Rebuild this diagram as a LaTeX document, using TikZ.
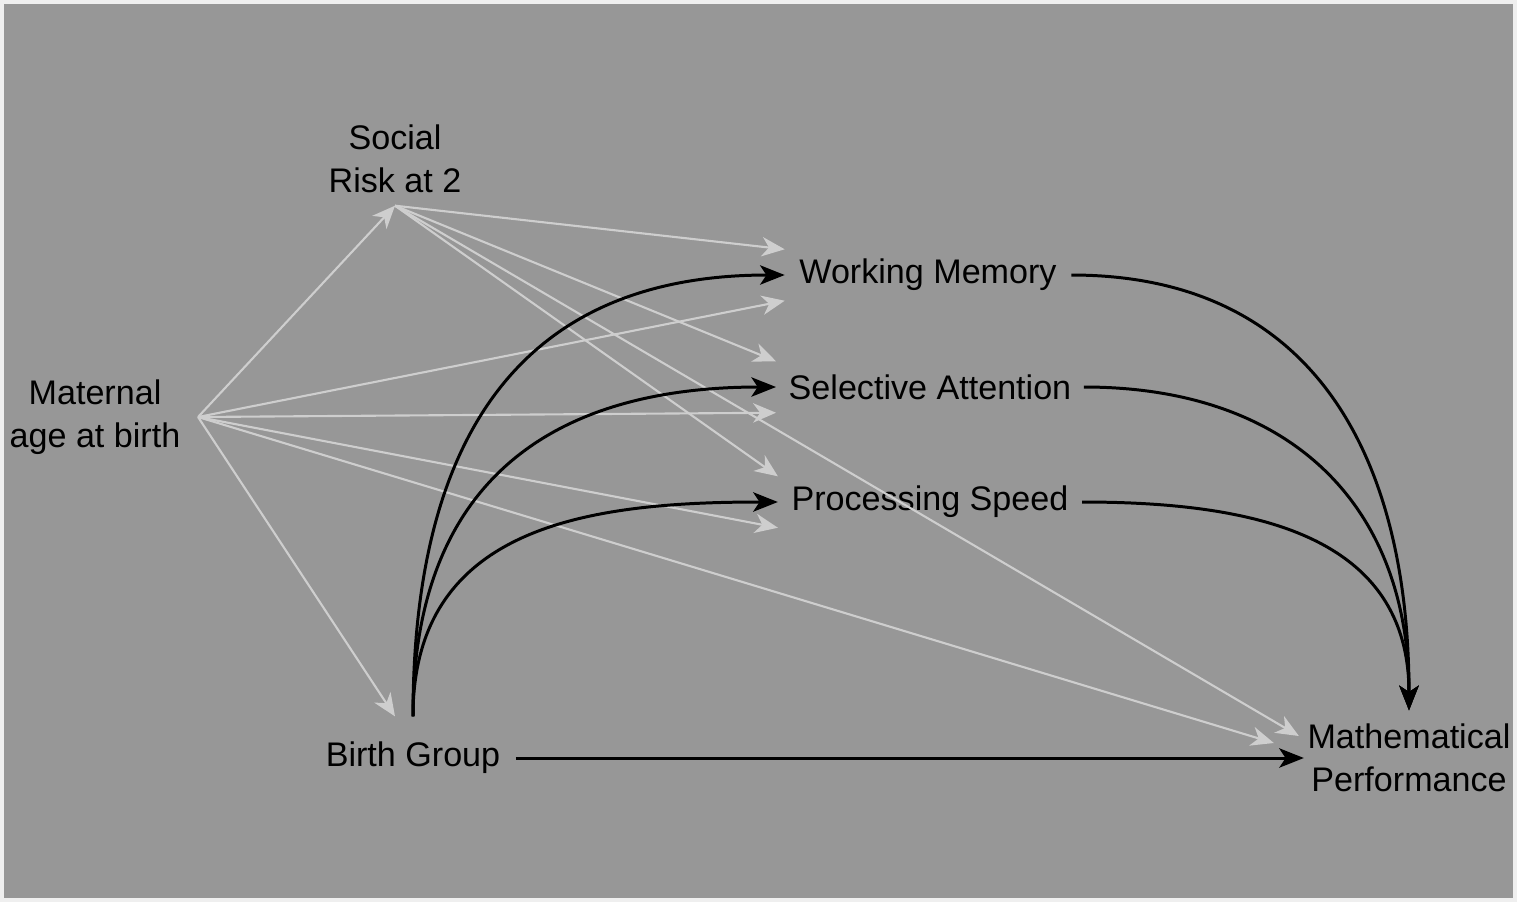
\documentclass[tikz,border=0pt]{standalone}
\usepackage{fontspec}
\setmainfont{Liberation Sans}
\usetikzlibrary{arrows.meta}

\definecolor{paneGray}{RGB}{151,151,151}
\definecolor{faintLine}{RGB}{206,206,206}

\tikzset{
  var/.style={align=center, inner sep=0pt, font=\fontsize{9.7}{12.2}\selectfont},
  weak/.style={draw=faintLine, line width=0.6pt, -{Stealth[length=6.5pt,width=5.5pt,inset=2pt]}},
  strong/.style={draw=black, line width=0.85pt, -{Stealth[length=7pt,width=5.5pt,inset=1.8pt]}},
}

\begin{document}
\begin{tikzpicture}[x=0.01cm, y=-0.01cm]
        \fill[white!85!paneGray] (0,0) rectangle (1517,902);
        \fill[paneGray] (4,4) rectangle (1513,898);
        \useasboundingbox (0,0) rectangle (1517,902);

        \node[var, inner xsep=0.17cm] (mat) at (95,417) {Maternal\\age at birth};
        \node[var, inner ysep=0.12cm] (soc) at (395,159) {Social\\Risk at 2};
        \node[var, inner xsep=0.15cm, inner ysep=0.25cm] (bg) at (413,758) {Birth Group};
        \node[var, inner xsep=0.14cm, minimum height=0.5cm] (wm) at (928,275) {Working Memory};
        \node[var, inner xsep=0.12cm, minimum height=0.5cm] (sa) at (930,387) {Selective Attention};
        \node[var, inner xsep=0.13cm, minimum height=0.5cm] (ps) at (930,502) {Processing Speed};
        \node[var, inner xsep=0.03cm, inner ysep=0.13cm] (mp) at (1409,758) {Mathematical\\Performance};

        % maternal age paths
        \draw[weak] (mat.east) -- (soc.south);
        \draw[weak] (mat.east) -- ([xshift=-0.18cm]bg.north);
        \draw[weak] (mat.east) -- (wm.south west);
        \draw[weak] (mat.east) -- (sa.south west);
        \draw[weak] (mat.east) -- (ps.south west);
        \draw[weak] (mat.east) -- ([xshift=-0.3cm,yshift=0.15cm]mp.west);

        % social risk paths
        \draw[weak] (soc.south) -- (wm.north west);
        \draw[weak] (soc.south) -- (sa.north west);
        \draw[weak] (soc.south) -- (ps.north west);
        \draw[weak] (soc.south) -- ([xshift=-0.05cm,yshift=0.22cm]mp.west);

        % birth group paths
        \draw[strong] (bg.north) to[out=90, in=180, looseness=1.2] (wm.west);
        \draw[strong] (bg.north) to[out=90, in=180, looseness=1.2] (sa.west);
        \draw[strong] (bg.north) to[out=90, in=180, looseness=1.15] (ps.west);
        \draw[strong] (bg.east) -- (mp.west);

        % mediators to outcome
        \draw[strong] (wm.east) to[out=0, in=90, looseness=1.15] (mp.north);
        \draw[strong] (sa.east) to[out=0, in=90, looseness=1.15] (mp.north);
        \draw[strong] (ps.east) to[out=0, in=90, looseness=1.15] (mp.north);
      \end{tikzpicture}
\end{document}
